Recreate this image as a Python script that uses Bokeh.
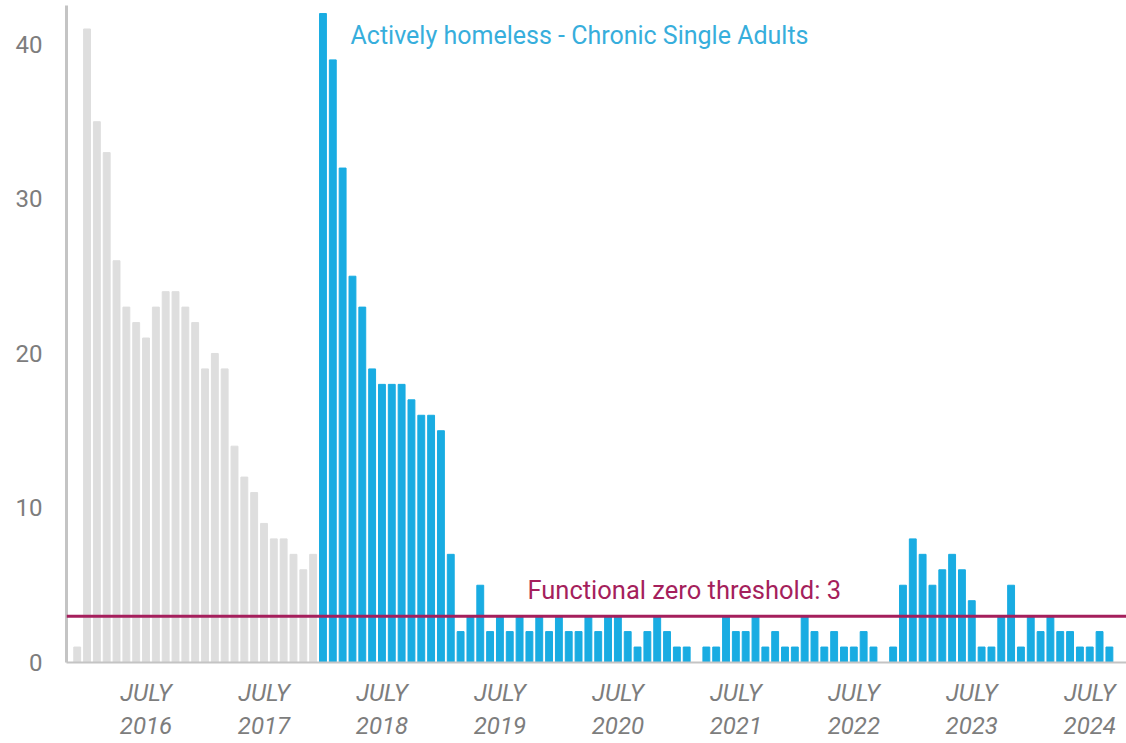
from bokeh.plotting import figure
from bokeh.models import FixedTicker, Span, Label, ColumnDataSource, Range1d
from bokeh.embed import file_html
from bokeh.resources import INLINE
import pandas as pd

# ---- data (monthly counts, Dec 2015 .. Sep 2024) ----
grey_counts = [1, 41, 35, 33, 26, 23, 22, 21, 23, 24, 24, 23, 22, 19, 20, 19,
               14, 12, 11, 9, 8, 8, 7, 6, 7]
blue_counts = [42, 39, 32, 25, 23, 19, 18, 18, 18, 17, 16, 16, 15, 7, 2, 3, 5,
               2, 3, 2, 3, 2, 3, 2, 3, 2, 2, 3, 2, 3, 3, 2, 1, 2, 3, 2, 1, 1, 0,
               1, 1, 3, 2, 2, 3, 1, 2,
               1, 1, 3, 2, 1, 2, 1, 1, 2, 1, 0, 1, 5, 8, 7, 5, 6, 7, 6, 4,
               1, 1, 3, 5, 1, 3, 2, 3, 2, 2, 1, 1, 2, 1]
months = pd.date_range("2015-12-01", periods=len(grey_counts) + len(blue_counts), freq="MS")
threshold = 3
y_ticks = [0, 10, 20, 30, 40]
series_label = "Actively homeless - Chronic Single Adults"
threshold_label = "Functional zero threshold: 3"

idx = list(range(len(months)))
grey_src = ColumnDataSource(dict(x=idx[:len(grey_counts)], top=grey_counts))
blue_src = ColumnDataSource(dict(x=idx[len(grey_counts):], top=blue_counts))

july_idx = [i for i, m in enumerate(months) if m.month == 7]
july_labels = {i: "JULY\n%d" % months[i].year for i in july_idx}

W, H = 1126, 743
p = figure(width=W, height=H, output_backend="svg", toolbar_location=None,
           x_range=Range1d(-1.09, 106.74), y_range=Range1d(0, 42.52),
           min_border_left=66, min_border_right=0, min_border_top=5,
           min_border_bottom=81)
p.outline_line_color = None
p.background_fill_color = "white"
p.border_fill_color = "white"
p.xgrid.visible = False
p.ygrid.visible = False

p.vbar(x="x", top="top", width=0.7, source=grey_src, color="#dedede")
p.vbar(x="x", top="top", width=0.7, source=blue_src, color="#19ace2")

p.add_layout(Span(location=threshold, dimension="width", line_color="#a51f5c",
                  line_width=3))

p.add_layout(Label(x=27.8, y=40.6, text=series_label, text_color="#37aedc",
                   text_font="Roboto", text_font_size="25px",
                   text_baseline="middle", text_align="left"))
p.add_layout(Label(x=45.8, y=4.66, text=threshold_label, text_color="#a51f5c",
                   text_font="Roboto", text_font_size="25.5px",
                   text_baseline="middle", text_align="left"))

# axes
p.yaxis.ticker = FixedTicker(ticks=y_ticks)
p.yaxis.axis_line_color = "#c4c4c4"
p.yaxis.axis_line_width = 3
p.yaxis.major_tick_line_color = None
p.yaxis.minor_tick_line_color = None
p.yaxis.major_tick_out = 0
p.yaxis.major_label_text_font = "Roboto"
p.yaxis.major_label_text_font_size = "24px"
p.yaxis.major_label_text_color = "#7d7d7d"
p.yaxis.major_label_standoff = 24

p.xaxis.ticker = FixedTicker(ticks=july_idx)
p.xaxis.major_label_overrides = july_labels
p.xaxis.axis_line_color = "#c4c4c4"
p.xaxis.axis_line_width = 2
p.xaxis.major_tick_line_color = None
p.xaxis.minor_tick_line_color = None
p.xaxis.major_tick_out = 0
p.xaxis.major_label_text_font = "Roboto"
p.xaxis.major_label_text_font_style = "italic"
p.xaxis.major_label_text_font_size = "24px"
p.xaxis.major_label_text_color = "#7d7d7d"
p.xaxis.major_label_standoff = 16

open("out.html", "w").write(file_html(p, INLINE))
